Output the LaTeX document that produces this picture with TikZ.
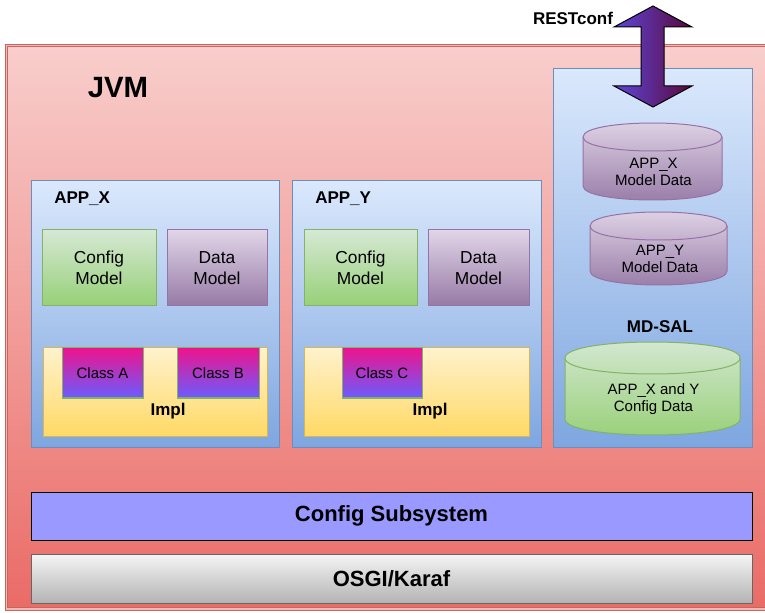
\documentclass[tikz,border=0pt]{standalone}
\usepackage{fontspec}
\setmainfont{Liberation Sans}
\usetikzlibrary{calc}
\definecolor{jvmTop}{HTML}{F8CECC}
\definecolor{jvmBot}{HTML}{EA6B66}
\definecolor{jvmLine}{HTML}{C96560}
\definecolor{blueTop}{HTML}{DAE8FC}
\definecolor{blueBot}{HTML}{7EA6E0}
\definecolor{blueLine}{HTML}{6C8EBF}
\definecolor{greenTop}{HTML}{D5E8D4}
\definecolor{greenBot}{HTML}{97D077}
\definecolor{greenLine}{HTML}{82B366}
\definecolor{purpleTop}{HTML}{E1D5E7}
\definecolor{purpleBot}{HTML}{967AA6}
\definecolor{purpleLine}{HTML}{9673A6}
\definecolor{yellowTop}{HTML}{FFF2CC}
\definecolor{yellowBot}{HTML}{FFD966}
\definecolor{yellowLine}{HTML}{D6B656}
\definecolor{classTop}{HTML}{EE148C}
\definecolor{classBot}{HTML}{6A5CFF}
\definecolor{subsysFill}{HTML}{9999FF}
\definecolor{osgiTop}{HTML}{F5F5F5}
\definecolor{osgiBot}{HTML}{B3B3B3}
\definecolor{osgiLine}{HTML}{666666}
\definecolor{arrowLeft}{HTML}{5E46DC}
\definecolor{arrowRight}{HTML}{5A0838}
\tikzset{
  box size/.style 2 args={
    minimum width=#1*0.75pt,
    minimum height=#2*0.75pt
  },
  plain box/.style={
    rectangle,
    anchor=north west,
    inner sep=0pt,
    outer sep=0pt,
    line width=0.75pt,
    align=center
  },
  app box/.style={
    plain box,
    draw=blueLine,
    top color=blueTop,
    bottom color=blueBot
  },
  config box/.style={
    plain box,
    draw=greenLine,
    top color=greenTop,
    bottom color=greenBot,
    font=\fontsize{13}{15.75}\selectfont
  },
  data box/.style={
    plain box,
    draw=purpleLine,
    top color=purpleTop,
    bottom color=purpleBot,
    font=\fontsize{13}{15.75}\selectfont
  },
  impl box/.style={
    plain box,
    draw=yellowLine,
    top color=yellowTop,
    bottom color=yellowBot
  },
  class box/.style={
    plain box,
    draw=greenLine,
    top color=classTop,
    bottom color=classBot,
    font=\fontsize{11.25}{13.5}\selectfont
  },
  title label/.style={
    inner sep=0pt,
    font=\bfseries\fontsize{12.75}{15}\selectfont
  },
  layer label/.style={
    font=\bfseries\fontsize{16.5}{20}\selectfont
  },
  cyl text/.style={
    align=center,
    font=\fontsize{11.25}{13.2}\selectfont
  }
}
% cylinder: x0, x1, top y, bottom y, ry, line colour, top colour, bottom colour
\newcommand{\dbcyl}[8]{%
  \path[draw=#6, line width=0.75pt, top color=#7, bottom color=#8]
    (#1,#3+#5) -- (#1,#4-#5)
    .. controls (#1,#4+0.333*#5) and (#2,#4+0.333*#5) .. (#2,#4-#5)
    -- (#2,#3+#5)
    .. controls (#2,#3-0.333*#5) and (#1,#3-0.333*#5) .. (#1,#3+#5) -- cycle;
  \draw[#6, line width=0.75pt] (#1,#3+#5)
    .. controls (#1,#3+2.333*#5) and (#2,#3+2.333*#5) .. (#2,#3+#5);
}

\begin{document}
\begin{tikzpicture}[x=0.75pt, y=-0.75pt]

  \clip (0,0) rectangle (765,613);
  \fill[white] (0,0) rectangle (765,613);

  %% ---- JVM frame ----
  \path[draw=jvmLine, double=jvmTop!80!jvmLine, double distance=1.2pt,
        line width=0.7pt, top color=jvmTop, bottom color=jvmBot]
      (6.5,45.5) rectangle (790,609);
  \node[font=\bfseries\fontsize{22}{26}\selectfont] (jvm) at (118,88) {JVM};

  %% ---- APP_X ----
  \node[app box, box size={248}{266}] (appx) at (31,181) {};
  \node[title label, anchor=west] (appxlabel) at (54,199) {APP\_X};
  \node[config box, box size={114}{76}] (cfgx) at (42,230) {Config\\Model};
  \node[data box, box size={100}{76}] (datax) at (167,230) {Data\\Model};
  \node[impl box, box size={224}{88}] (implx) at (43,348) {};
  \node[class box, box size={81}{50}] (classa) at (62,348) {Class A};
  \node[class box, box size={82}{50}] (classb) at (177,348) {Class B};
  \node[title label] (implxlabel) at (168,411) {Impl};

  %% ---- APP_Y ----
  \node[app box, box size={249}{266}] (appy) at (292,181) {};
  \node[title label, anchor=west] (appylabel) at (315,199) {APP\_Y};
  \node[config box, box size={113}{76}] (cfgy) at (304,230) {Config\\Model};
  \node[data box, box size={101}{76}] (datay) at (428,230) {Data\\Model};
  \node[impl box, box size={225}{88}] (imply) at (304,348) {};
  \node[class box, box size={80}{50}] (classc) at (342,348) {Class C};
  \node[title label] (implylabel) at (430,411) {Impl};

  %% ---- MD-SAL ----
  \node[app box, box size={199}{378}] (mdsal) at (553,69) {};
  \dbcyl{583}{722}{123}{200}{14}{purpleLine}{purpleTop}{purpleBot}
  \node[cyl text] (xdata) at (653.5,172) {APP\_X\\Model Data};
  \dbcyl{590}{727}{212}{285}{14}{purpleLine}{purpleTop}{purpleBot}
  \node[cyl text] (ydata) at (660,259) {APP\_Y\\Model Data};
  \node[title label] (mdsallabel) at (660,327) {MD-SAL};
  \dbcyl{565}{740}{342}{435}{16}{greenLine}{greenTop}{greenBot}
  \node[cyl text] (cfgdata) at (653.5,399) {APP\_X and Y\\Config Data};

  %% ---- RESTconf arrow ----
  \path[draw=black, line width=0.75pt, left color=arrowLeft, right color=arrowRight]
      (653,6) -- (692,27) -- (664,27) -- (664,86) -- (692,86) -- (653,107)
      -- (614,86) -- (641,86) -- (641,27) -- (614,27) -- cycle;
  \node[title label] (rest) at (573,18) {RESTconf};

  %% ---- bottom layers ----
  \node[plain box, draw=black, fill=subsysFill, box size={721}{48}, layer label]
      (subsys) at (31,492) {Config Subsystem};
  \node[plain box, draw=osgiLine, top color=osgiTop, bottom color=osgiBot,
        box size={721}{49}, layer label] (osgi) at (31,554) {OSGI/Karaf};

\end{tikzpicture}
\end{document}
